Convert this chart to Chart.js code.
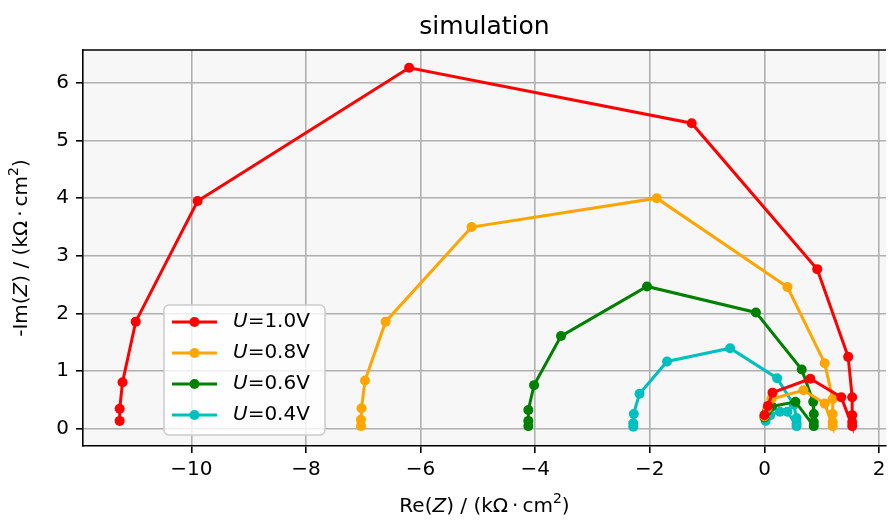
<!DOCTYPE html>
<html>
<head>
<meta charset="utf-8">
<script src="https://cdn.jsdelivr.net/npm/chart.js@4.4.1/dist/chart.umd.min.js"></script>
<style>
    html, body { margin: 0; padding: 0; background: #fff; }
    #wrap { width: 891px; height: 521px; }
</style>
</head>
<body>
<div id="wrap"><canvas id="nyquist" width="891" height="521"></canvas></div>
<script>
// values
const seriesLabels = ["=1.0V", "=0.8V", "=0.6V", "=0.4V"];
const seriesColors = ["#ff0000", "#ffa500", "#008000", "#00bfbf"];

const re10 = [-11.25, -11.25, -11.2, -10.97, -9.89, -6.2, -1.27, 0.92, 1.46, 1.53, 1.53, 1.53, 1.53, 1.34, 0.8, 0.14, 0.06, 0.0];
const im10 = [0.14, 0.35, 0.81, 1.86, 3.95, 6.26, 5.30, 2.77, 1.25, 0.55, 0.24, 0.12, 0.05, 0.55, 0.87, 0.63, 0.40, 0.24];

const re08 = [-7.04, -7.04, -7.03, -6.97, -6.61, -5.11, -1.88, 0.40, 1.05, 1.19, 1.19, 1.19, 1.19, 1.05, 0.68, 0.12, 0.05, 0.0];
const im08 = [0.05, 0.16, 0.36, 0.84, 1.86, 3.50, 4.0, 2.46, 1.14, 0.52, 0.26, 0.12, 0.05, 0.44, 0.67, 0.52, 0.36, 0.22];

const re06 = [-4.12, -4.12, -4.12, -4.02, -3.55, -2.05, -0.15, 0.65, 0.85, 0.86, 0.86, 0.86, 0.54, 0.13, 0.04, 0.0];
const im06 = [0.05, 0.14, 0.33, 0.76, 1.61, 2.47, 2.02, 1.03, 0.47, 0.26, 0.12, 0.05, 0.47, 0.39, 0.30, 0.20];

const re04 = [-2.29, -2.29, -2.28, -2.18, -1.70, -0.60, 0.22, 0.51, 0.56, 0.56, 0.56, 0.40, 0.27, 0.10, 0.02];
const im04 = [0.04, 0.10, 0.26, 0.61, 1.17, 1.40, 0.88, 0.42, 0.19, 0.10, 0.05, 0.30, 0.30, 0.24, 0.14];

const xTicks = [-10, -8, -6, -4, -2, 0, 2];
const yTicks = [0, 1, 2, 3, 4, 5, 6];

const FONT = '"DejaVu Sans", sans-serif';

function toPoints(re, im) {
    return re.map((x, i) => ({ x: x, y: im[i] }));
}

function minusSign(v) {
    return String(v).replace("-", "\u2212");
}

// draws text made of normal / italic / superscript pieces, centred on (x, y)
function drawRich(ctx, parts, x, y, size) {
    const fontOf = p => p.s === "i" ? "italic " + size + "px " + FONT
        : p.s === "sup" ? Math.round(size * 0.7) + "px " + FONT
        : size + "px " + FONT;
    let total = 0;
    parts.forEach(p => { ctx.font = fontOf(p); total += ctx.measureText(p.t).width; });
    let cx = x - total / 2;
    ctx.textBaseline = "middle";
    ctx.textAlign = "left";
    parts.forEach(p => {
        ctx.font = fontOf(p);
        ctx.fillText(p.t, cx, p.s === "sup" ? y - size * 0.38 : y);
        cx += ctx.measureText(p.t).width;
    });
}

const decor = {
    id: "decor",
    beforeDraw(chart) {
        const { ctx, chartArea: a } = chart;
        ctx.save();
        ctx.fillStyle = "#f7f7f7";
        ctx.fillRect(a.left, a.top, a.right - a.left, a.bottom - a.top);
        ctx.restore();
    },
    afterDraw(chart) {
        const { ctx, chartArea: a } = chart;
        ctx.save();
        // top spine
        ctx.strokeStyle = "#000";
        ctx.lineWidth = 1.6;
        ctx.beginPath();
        ctx.moveTo(a.left - 0.8, a.top);
        ctx.lineTo(a.right, a.top);
        ctx.stroke();

        ctx.fillStyle = "#000";
        ctx.font = "25px " + FONT;
        ctx.textAlign = "center";
        ctx.textBaseline = "middle";
        ctx.fillText("simulation", (a.left + a.right) / 2, 27);

        const unit = [{ t: ") / (k\u03a9\u2009\u00b7\u2009cm" }, { t: "2", s: "sup" }, { t: ")" }];
        drawRich(ctx, [{ t: "Re(" }, { t: "Z", s: "i" }].concat(unit), (a.left + a.right) / 2, 507, 20);

        ctx.save();
        ctx.translate(22, (a.top + a.bottom) / 2);
        ctx.rotate(-Math.PI / 2);
        drawRich(ctx, [{ t: "-Im(" }, { t: "Z", s: "i" }].concat(unit), 0, 0, 20);
        ctx.restore();

        // legend
        const lx = a.left + 81, ly = a.top + 255, lw = 161, lh = 130;
        ctx.beginPath();
        ctx.roundRect(lx, ly, lw, lh, 5);
        ctx.fillStyle = "rgba(255,255,255,0.8)";
        ctx.fill();
        ctx.strokeStyle = "#cccccc";
        ctx.lineWidth = 1.5;
        ctx.stroke();
        seriesLabels.forEach((lab, i) => {
            const cy = ly + 17 + i * 31;
            ctx.strokeStyle = seriesColors[i];
            ctx.fillStyle = seriesColors[i];
            ctx.lineWidth = 3;
            ctx.beginPath();
            ctx.moveTo(lx + 8, cy);
            ctx.lineTo(lx + 53, cy);
            ctx.stroke();
            ctx.beginPath();
            ctx.arc(lx + 30.5, cy, 5, 0, Math.PI * 2);
            ctx.fill();
            ctx.fillStyle = "#000";
            ctx.textAlign = "left";
            ctx.textBaseline = "middle";
            ctx.font = "italic 20px " + FONT;
            ctx.fillText("U", lx + 69, cy);
            const w = ctx.measureText("U").width;
            ctx.font = "20px " + FONT;
            ctx.fillText(lab, lx + 69 + w, cy);
        });
        ctx.restore();
    }
};

function makeSet(i, re, im) {
    return {
        label: "U" + seriesLabels[i],
        data: toPoints(re, im),
        showLine: true,
        borderColor: seriesColors[i],
        backgroundColor: seriesColors[i],
        borderWidth: 3,
        pointRadius: 5,
        pointHoverRadius: 5,
        pointBorderWidth: 0,
        tension: 0
    };
}

const gridStyle = {
    color: "#b0b0b0",
    lineWidth: 1.6,
    tickColor: "#000",
    tickLength: 7,
    tickWidth: 1.6
};

new Chart(document.getElementById("nyquist").getContext("2d"), {
    type: "scatter",
    data: {
        datasets: [
            makeSet(0, re10, im10),
            makeSet(1, re08, im08),
            makeSet(2, re06, im06),
            makeSet(3, re04, im04)
        ]
    },
    options: {
        responsive: false,
        animation: false,
        events: [],
        layout: { padding: { left: 0, top: 50, right: 0, bottom: 0 } },
        plugins: {
            legend: { display: false },
            tooltip: { enabled: false },
            title: { display: false }
        },
        scales: {
            x: {
                type: "linear",
                min: -11.89,
                max: 2.12,
                grid: gridStyle,
                border: { display: true, color: "#000", width: 1.6 },
                afterBuildTicks: s => { s.ticks = xTicks.map(v => ({ value: v })); },
                afterFit: s => { s.height = 75; s.paddingLeft = 0; s.paddingRight = 0; },
                ticks: {
                    color: "#000",
                    font: { family: FONT, size: 20 },
                    padding: 5,
                    maxRotation: 0,
                    callback: v => minusSign(v)
                }
            },
            y: {
                type: "linear",
                min: -0.295,
                max: 6.568,
                grid: gridStyle,
                border: { display: true, color: "#000", width: 1.6 },
                afterBuildTicks: s => { s.ticks = yTicks.map(v => ({ value: v })); },
                afterFit: s => { s.width = 83; s.paddingTop = 0; s.paddingBottom = 0; },
                ticks: {
                    color: "#000",
                    font: { family: FONT, size: 20 },
                    padding: 7,
                    callback: v => minusSign(v)
                }
            }
        }
    },
    plugins: [decor]
});
</script>
</body>
</html>
